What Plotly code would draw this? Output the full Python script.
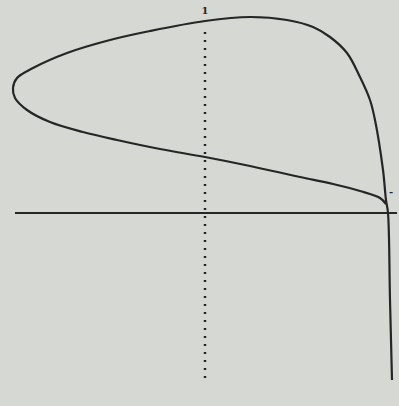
import plotly.graph_objects as go

# Loop curve, traced from the bottom of the tail, up the right side,
# across the top, round the left tip and back along the lower branch.
curve_x = [187, 185, 183, 181, 178, 170, 165, 155, 142, 125, 108, 82, 45,
           0, -55, -95, -138, -172, -188, -192, -190, -178, -155, -122, -88,
           -45, 0, 45, 95, 128, 155, 175, 181]
curve_y = [-167, -87, 0, 13, 43, 93, 113, 136, 160, 176, 186, 193, 196,
           192, 182, 173, 160, 145, 135, 125, 115, 103, 91, 81, 73,
           64, 56, 47, 36, 29, 22, 15, 9]

# Horizontal axis and vertical dotted guide
axis_x = [-190, 192]
axis_y = [0, 0]
guide_x = [0, 0]
guide_y = [181, -165]

# Point labels
label_text = ["<b>1</b>", "<b>-</b>"]
label_x = [0, 186]
label_y = [202, 21]

ink = "#262626"

fig = go.Figure()
fig.add_trace(go.Scatter(x=axis_x, y=axis_y, mode="lines",
                         line=dict(color=ink, width=2), hoverinfo="skip"))
fig.add_trace(go.Scatter(x=guide_x, y=guide_y, mode="lines",
                         line=dict(color=ink, width=2.5, dash="2px,6px"),
                         hoverinfo="skip"))
fig.add_trace(go.Scatter(x=curve_x, y=curve_y, mode="lines",
                         line=dict(color=ink, width=2.2, shape="spline",
                                   smoothing=1.0),
                         hoverinfo="skip"))
fig.add_trace(go.Scatter(x=label_x, y=label_y, mode="text", text=label_text,
                         textfont=dict(family="DejaVu Serif", size=10,
                                       color=ink),
                         hoverinfo="skip"))

fig.update_layout(
    width=399, height=406,
    margin=dict(l=0, r=0, t=0, b=0),
    paper_bgcolor="#d5d8d3",
    plot_bgcolor="#d5d8d3",
    showlegend=False,
    xaxis=dict(range=[-205, 194], visible=False, fixedrange=True),
    yaxis=dict(range=[-193, 213], visible=False, fixedrange=True),
)

fig.write_html("out.html")
